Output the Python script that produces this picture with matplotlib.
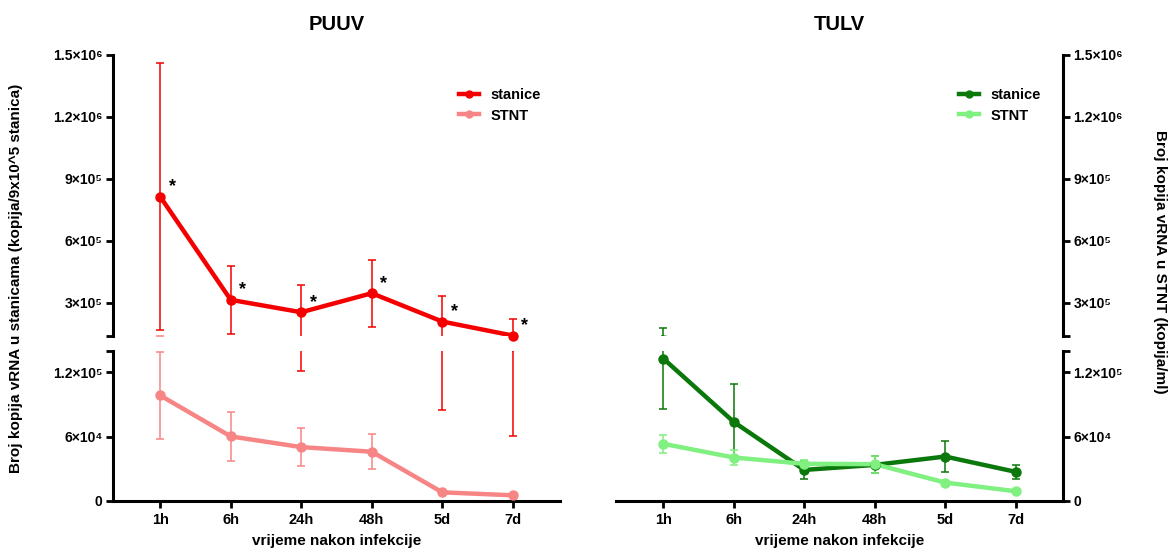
import numpy as np
import matplotlib
matplotlib.use("Agg")
import matplotlib.pyplot as plt
from matplotlib.lines import Line2D

plt.rcParams['font.family'] = ['Liberation Sans', 'DejaVu Sans']
plt.rcParams['font.weight'] = 'bold'
plt.rcParams['axes.titleweight'] = 'bold'
plt.rcParams['axes.labelweight'] = 'bold'

times = ['1h', '6h', '24h', '48h', '5d', '7d']

puuv_cells = [8.14e5, 3.15e5, 2.55e5, 3.47e5, 2.10e5, 1.42e5]
puuv_cells_sd = [6.45e5, 1.65e5, 1.34e5, 1.62e5, 1.25e5, 8.1e4]
puuv_stnt = [9.85e4, 6.03e4, 5.03e4, 4.60e4, 8.1e3, 5.3e3]
puuv_stnt_sd = [4.1e4, 2.25e4, 1.75e4, 1.65e4, 1.5e3, 1.0e3]

tulv_cells = [1.33e5, 7.38e4, 2.9e4, 3.37e4, 4.15e4, 2.72e4]
tulv_cells_sd = [4.7e4, 3.5e4, 8e3, 8e3, 1.47e4, 6.3e3]
tulv_stnt = [5.34e4, 4.06e4, 3.47e4, 3.44e4, 1.72e4, 9.1e3]
tulv_stnt_sd = [8.4e3, 7e3, 4e3, 8e3, 1.5e3, 1.0e3]

top_ticks = [3e5, 6e5, 9e5, 1.2e6, 1.5e6]
top_labels = ['3×10⁵', '6×10⁵', '9×10⁵', '1.2×10⁶', '1.5×10⁶']
bot_ticks = [0, 6e4, 1.2e5]
bot_labels = ['0', '6×10⁴', '1.2×10⁵']
brk = 1.4e5

W, H = 1171, 551
fig = plt.figure(figsize=(W / 100, H / 100), dpi=100)

x = np.arange(len(times))


def series(ax, vals, sd, color, lo, hi):
    vals = np.array(vals)
    ax.errorbar(x, vals, yerr=sd, fmt='none', ecolor=color, elinewidth=1.1,
                capsize=3, capthick=1.1, zorder=2)
    ax.plot(x, vals, color=color, lw=3.2, zorder=3)
    inside = (vals >= lo) & (vals <= hi)
    ax.plot(x[inside], vals[inside], 'o', color=color, ms=6.5, zorder=4, clip_on=False)


def panel(x0, side, title, cells, cells_sd, stnt, stnt_sd, c1, c2, stars):
    w = 447 / W
    ax_top = fig.add_axes([x0 / W, 1 - 336 / H, w, 281 / H])
    ax_bot = fig.add_axes([x0 / W, 1 - 501 / H, w, 150 / H])

    for ax, lo, hi in ((ax_top, brk, 1.5e6), (ax_bot, 0, brk)):
        series(ax, cells, cells_sd, c1, lo, hi)
        series(ax, stnt, stnt_sd, c2, lo, hi)
        ax.set_ylim(lo, hi)
        ax.set_xlim(-0.67, 5.67)
        for s in ax.spines.values():
            s.set_visible(False)
        ax.spines[side].set_visible(True)
        ax.spines[side].set_linewidth(2.2)
        ax.tick_params(axis='y', direction='out', length=5, width=2, pad=2.5,
                       labelsize=10, left=(side == 'left'), right=(side == 'right'),
                       labelleft=(side == 'left'), labelright=(side == 'right'))

    ax_top.set_yticks(top_ticks + [brk])
    ax_top.set_yticklabels(top_labels + [''])
    ax_bot.set_yticks(bot_ticks + [brk])
    ax_bot.set_yticklabels(bot_labels + [''])

    ax_top.set_xticks([])
    ax_bot.spines['bottom'].set_visible(True)
    ax_bot.spines['bottom'].set_linewidth(2.2)
    ax_bot.set_xticks(x)
    ax_bot.set_xticklabels(times)
    ax_bot.tick_params(axis='x', direction='out', length=5, width=2, pad=4, labelsize=10.5)
    ax_bot.set_xlabel('vrijeme nakon infekcije', fontsize=11, fontweight='bold', labelpad=5)

    ax_top.set_title(title, fontsize=14.5, fontweight='bold', pad=18)

    if stars:
        for i, v in enumerate(cells):
            ax_top.annotate('*', (i, v), xytext=(6, 1), textcoords='offset points',
                            fontsize=13, va='bottom', ha='left', annotation_clip=False)

    handles = [Line2D([], [], color=c1, lw=3.2, marker='o', ms=5),
               Line2D([], [], color=c2, lw=3.2, marker='o', ms=5)]
    return ax_top, ax_bot, handles


t1, b1, h1 = panel(113, 'left', 'PUUV', puuv_cells, puuv_cells_sd, puuv_stnt, puuv_stnt_sd,
                   '#f40000', '#f88585', True)
t2, b2, h2 = panel(616, 'right', 'TULV', tulv_cells, tulv_cells_sd, tulv_stnt, tulv_stnt_sd,
                   '#0a780a', '#80f080', False)

for hd, xl in ((h1, 459), (h2, 959)):
    fig.legend(hd, ['stanice', 'STNT'], loc='upper left',
               bbox_to_anchor=(xl / W, 1 - 88 / H), frameon=False,
               prop={'size': 10.5, 'weight': 'bold'},
               handlelength=1.4, handletextpad=0.75, labelspacing=0.45,
               borderpad=0, borderaxespad=0)

fig.text(16 / W, 1 - 278 / H, 'Broj kopija vRNA u stanicama (kopija/9x10^5 stanica)',
         rotation=90, ha='center', va='center', fontsize=11, fontweight='bold')
fig.text(1160 / W, 1 - 262 / H, 'Broj kopija vRNA u STNT (kopija/ml)',
         rotation=270, ha='center', va='center', fontsize=11, fontweight='bold')

fig.savefig('out.png', dpi=100)
